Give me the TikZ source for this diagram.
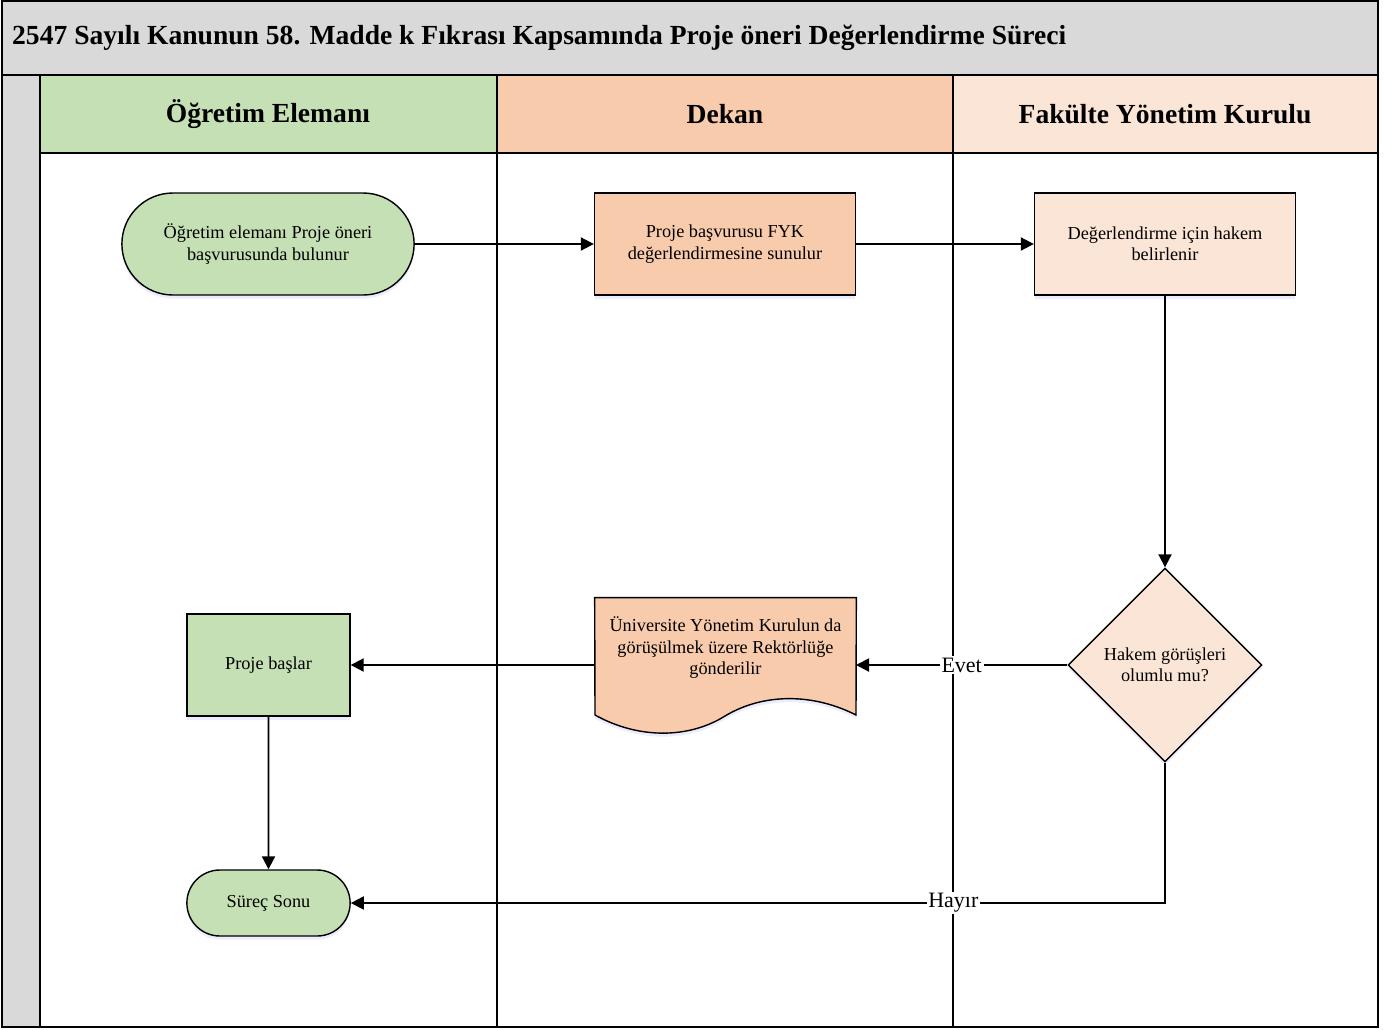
\documentclass[tikz,border=0pt]{standalone}
\usepackage{fontspec}
\setmainfont{Liberation Serif}
\usepackage{tikz}
\usetikzlibrary{arrows.meta}
\usetikzlibrary{shapes.geometric,shapes.misc}
\usetikzlibrary{shadows}
\usetikzlibrary{backgrounds}

\definecolor{laneGray}{HTML}{D9D9D9}
\definecolor{ogrGreen}{HTML}{C5E0B4}
\definecolor{dekOrange}{HTML}{F8CBAD}
\definecolor{fykPeach}{HTML}{FBE5D6}

\tikzset{
  frame/.style={line width=1.1pt},
  lanehead/.style={font=\fontsize{15.7}{18}\selectfont\bfseries},
  softshadow/.style={drop shadow={shadow xshift=0pt,shadow yshift=-2pt,fill=blue!30,opacity=0.25}},
  shptext/.style={align=center,font=\fontsize{10.4}{12.2}\selectfont},
  shp/.style={shptext,draw,line width=0.8pt,softshadow},
  terminal/.style={shp,rounded rectangle,minimum height=2.04cm},
  procbox/.style={shp,rectangle,minimum width=5.22cm,minimum height=2.04cm},
  decision/.style={shp,diamond,inner sep=0pt,minimum width=3.88cm,minimum height=3.88cm},
  docbox/.style={shptext,rectangle,minimum width=5.22cm,minimum height=2.34cm,text depth=0.5cm},
  flow/.style={line width=1.1pt,-{Triangle[length=0.26cm,width=0.26cm]}},
  yesno/.style={fill=white,inner sep=1pt,font=\fontsize{12.5}{14}\selectfont}
}

\begin{document}
\begin{tikzpicture}[x=0.02cm,y=-0.02cm]
  \useasboundingbox (0,0) rectangle (1387,1029);

  % pool: title bar, side strip and lane headers
  \fill[laneGray] (2,1) rectangle (1378,75);
  \fill[laneGray] (2,75) rectangle (40,1027);
  \fill[ogrGreen] (40,75) rectangle (497,153);
  \fill[dekOrange] (497,75) rectangle (953,153);
  \fill[fykPeach] (953,75) rectangle (1377,153);
  \draw[frame] (2,1) rectangle (1378,1027);
  \draw[frame] (2,75) -- (1378,75);
  \draw[frame] (40,153) -- (1377,153);
  \foreach \lx in {40,497,953} \draw[frame] (\lx,75) -- (\lx,1027);

  \node[anchor=west,font=\fontsize{15.7}{19}\selectfont\bfseries] (title) at (6,38) {2547 Sayılı Kanunun 58. Madde k Fıkrası Kapsamında Proje öneri Değerlendirme Süreci};
  \node[lanehead] (h1) at (268,114) {Öğretim Elemanı};
  \node[lanehead] (h2) at (725,114) {Dekan};
  \node[lanehead] (h3) at (1165,114) {Fakülte Yönetim Kurulu};

  % steps
  \node[terminal,fill=ogrGreen,minimum width=6.08cm] (start) at (268,244) {Öğretim elemanı Proje öneri\\başvurusunda bulunur};
  \node[procbox,fill=dekOrange] (sunum) at (725,244) {Proje başvurusu FYK\\değerlendirmesine sunulur};
  \node[procbox,fill=fykPeach] (hakem) at (1165,244) {Değerlendirme için hakem\\belirlenir};
  \node[decision,fill=fykPeach] (karar) at (1165,665) {Hakem görüşleri\\olumlu mu?};
  \node[docbox,text depth=0.42cm] (rektor) at (725.5,656.5) {Üniversite Yönetim Kurulun da\\görüşülmek üzere Rektörlüğe\\gönderilir};
  \begin{scope}[on background layer]
    \draw[line width=0.8pt,fill=dekOrange,softshadow] (rektor.north west) -- (rektor.north east) -- (856,715)
      .. controls (815,694) and (765,692) .. (725,716)
      .. controls (690,738) and (640,740) .. (595,715) -- cycle;
  \end{scope}
  \node[procbox,fill=ogrGreen,minimum width=3.26cm] (baslar) at (268.5,665) {Proje başlar};
  \node[terminal,fill=ogrGreen,minimum width=3.5cm,minimum height=1.32cm] (son) at (268.5,903) {Süreç Sonu};

  % connectors
  \draw[flow] (start) -- (sunum);
  \draw[flow] (sunum) -- (hakem);
  \draw[flow] (hakem) -- (karar);
  \draw[flow] (karar.west) -- node[yesno] {Evet} (856,665);
  \draw[flow] (595,665) -- (baslar.east);
  \draw[flow] (baslar) -- (son);
  \draw[flow] (karar.south) |- node[yesno,pos=0.63] {Hayır} (son.east);
\end{tikzpicture}
\end{document}
